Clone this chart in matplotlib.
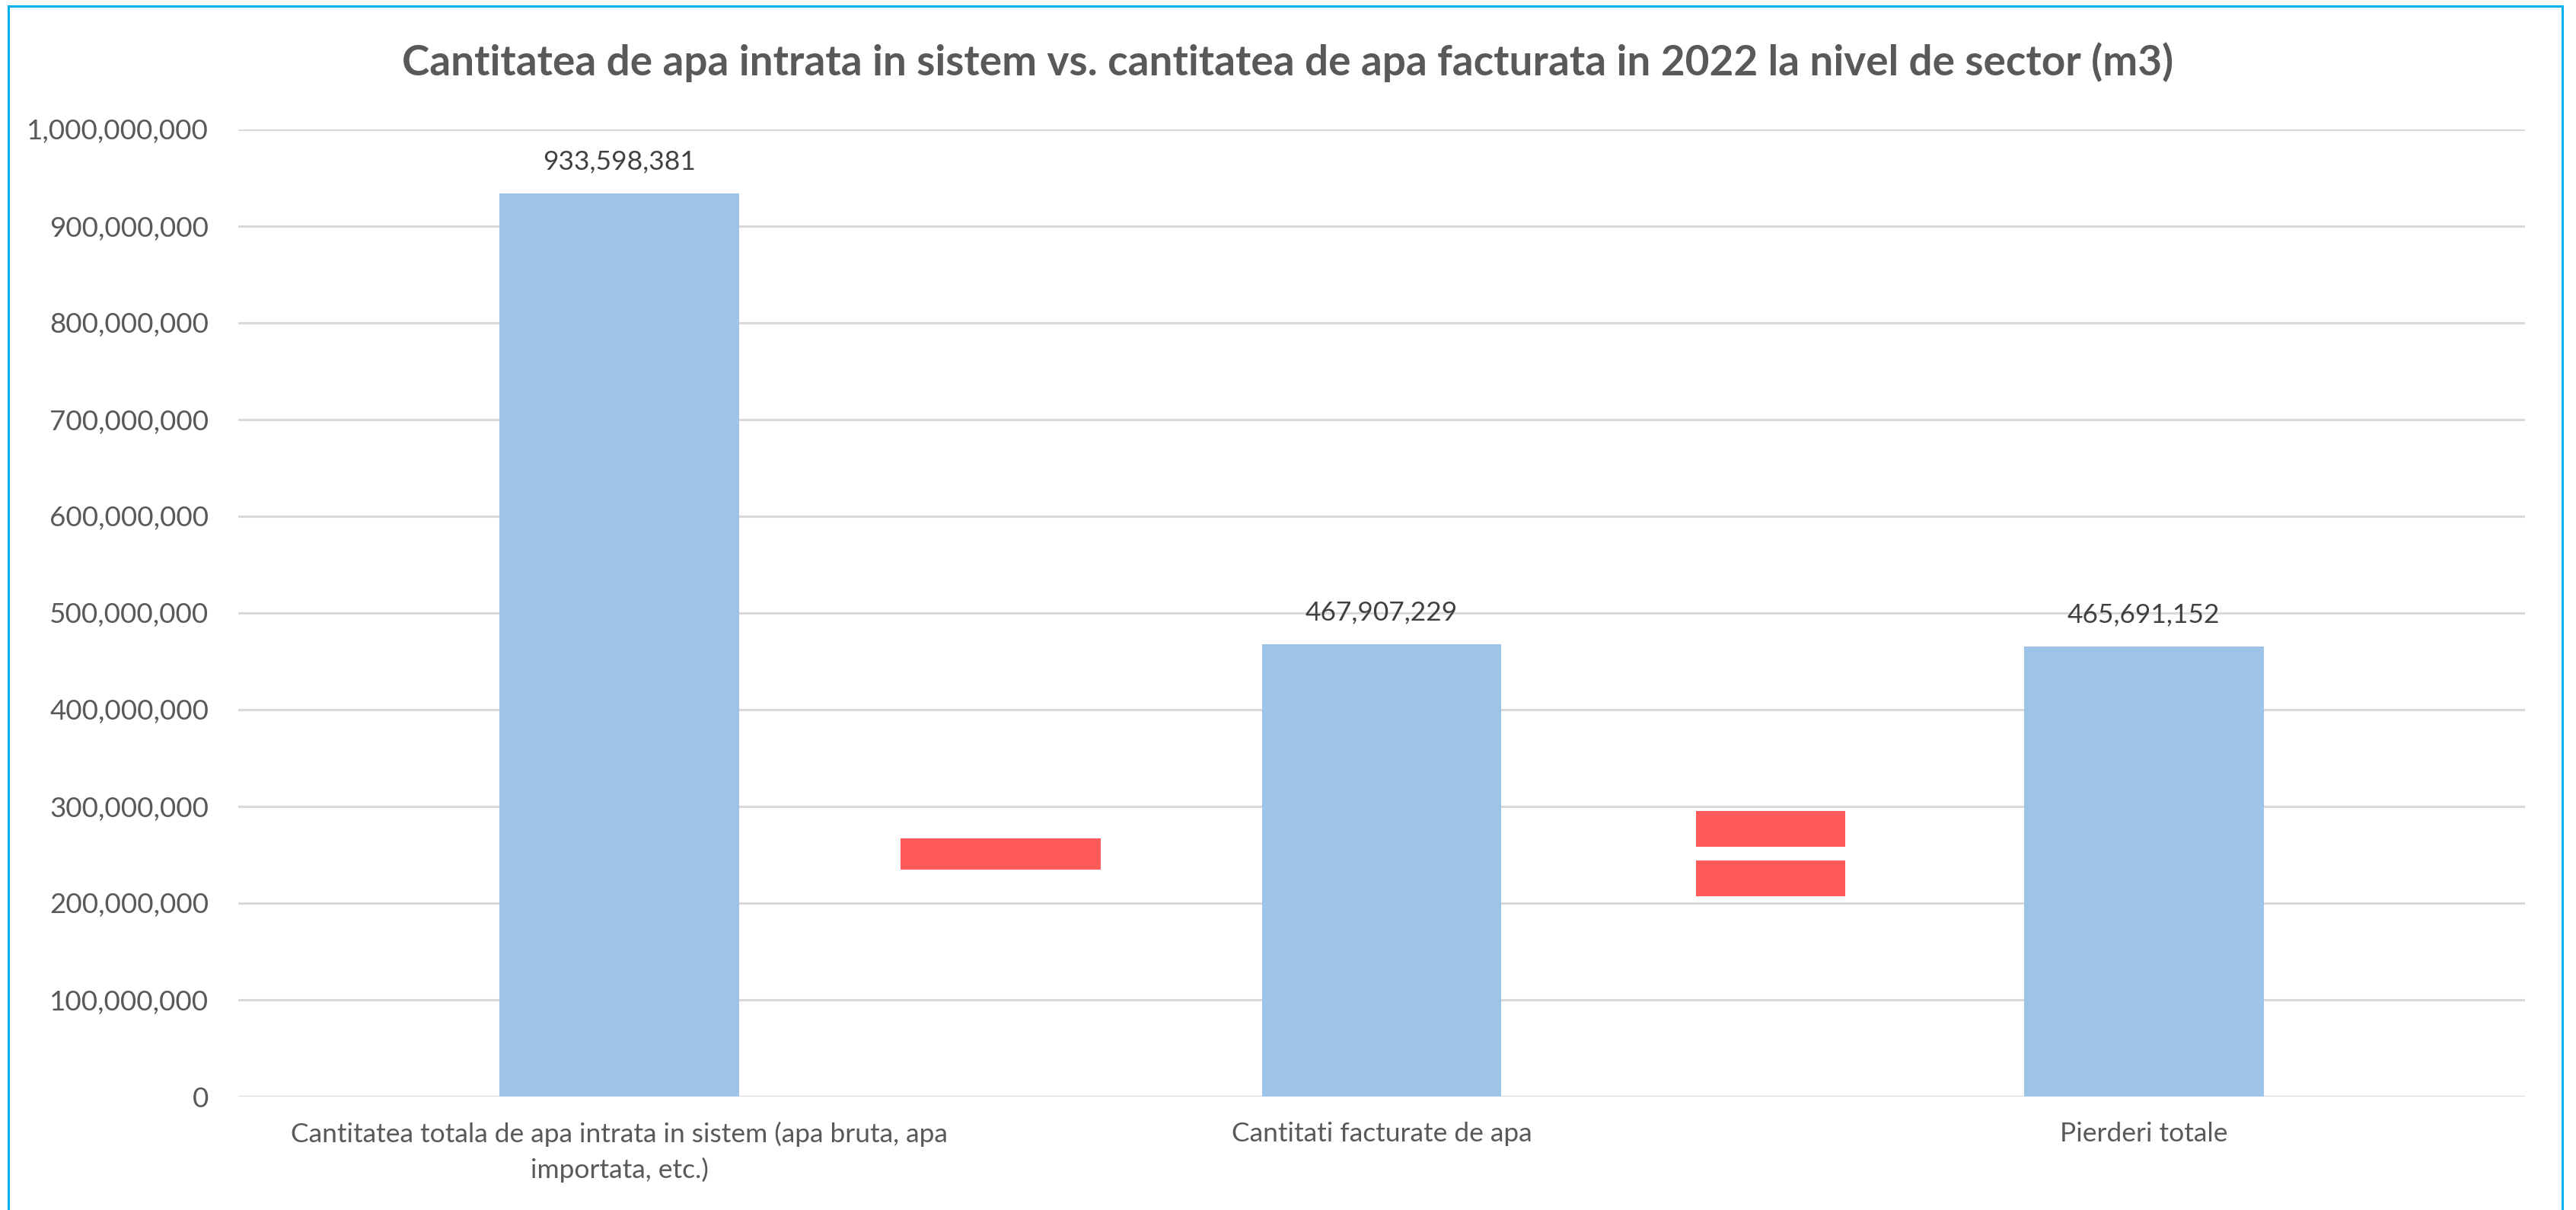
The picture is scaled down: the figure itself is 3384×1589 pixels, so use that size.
import matplotlib
matplotlib.use("Agg")
import matplotlib.pyplot as plt
from matplotlib.patches import Rectangle
from matplotlib.ticker import FuncFormatter, MultipleLocator

# ---- data ----
categories = [
    "Cantitatea totala de apa intrata in sistem (apa bruta, apa\nimportata, etc.)",
    "Cantitati facturate de apa",
    "Pierderi totale",
]
values = [933598381, 467907229, 465691152]

# decorative operator signs ("-" and "=") drawn between the bars
minus_pos = [0.5]
minus_bottom = [235e6]
minus_top = [267e6]
equals_pos = [1.51, 1.51]
equals_bottom = [258e6, 207e6]
equals_top = [295e6, 244e6]

title = "Cantitatea de apa intrata in sistem vs. cantitatea de apa facturata in 2022 la nivel de sector (m3)"

# ---- style ----
plt.rcParams['font.family'] = ['Lato', 'DejaVu Sans']
text_color = "#595959"
bar_color = "#9DC3E6"
sign_color = "#FF5B5B"
grid_color = "#D9D9D9"

W, H = 3384, 1589
fig = plt.figure(figsize=(W / 100, H / 100), dpi=100)
fig.patch.set_facecolor("white")

ax = fig.add_axes([313 / W, 1 - 1440 / H, (3317 - 313) / W, (1440 - 170) / H])
x = list(range(len(categories)))
ax.bar(x, values, width=0.314, color=bar_color, zorder=3)

# operator signs
ax.bar(minus_pos, [t - b for t, b in zip(minus_top, minus_bottom)], bottom=minus_bottom,
       width=0.263, color=sign_color, zorder=3)
ax.bar(equals_pos, [t - b for t, b in zip(equals_top, equals_bottom)], bottom=equals_bottom,
       width=0.196, color=sign_color, zorder=3)

for xi, v in zip(x, values):
    ax.annotate(f"{v:,}", (xi, v), xytext=(0, 30), textcoords="offset points",
                ha="center", va="center", fontsize=25.5, color="#404040")

ax.set_xlim(-0.5, len(categories) - 0.5)
ax.set_ylim(0, 1e9)
ax.yaxis.set_major_locator(MultipleLocator(1e8))
ax.yaxis.set_major_formatter(FuncFormatter(lambda v, p: f"{int(round(v)):,}"))
ax.grid(axis="y", color=grid_color, linewidth=2.2, zorder=0)
ax.set_axisbelow(True)
for s in ax.spines.values():
    s.set_visible(False)
ax.set_xticks(x)
ax.set_xticklabels(categories, fontsize=25.5, color=text_color, linespacing=1.5)
ax.tick_params(axis="x", length=0, pad=24)
ax.tick_params(axis="y", length=0, pad=28, labelsize=26.5, labelcolor=text_color)

fig.text(0.5, 1 - 82 / H, title, ha="center", va="center", fontsize=39.5,
         fontweight="bold", color=text_color)

# outer border
fig.patches.append(Rectangle((11 / W, -0.05), (3366 - 11) / W, 1 - 8 / H + 0.05,
                             transform=fig.transFigure, fill=False,
                             edgecolor="#00B0F0", linewidth=2.2, zorder=10))

fig.savefig("out.png", dpi=100)
